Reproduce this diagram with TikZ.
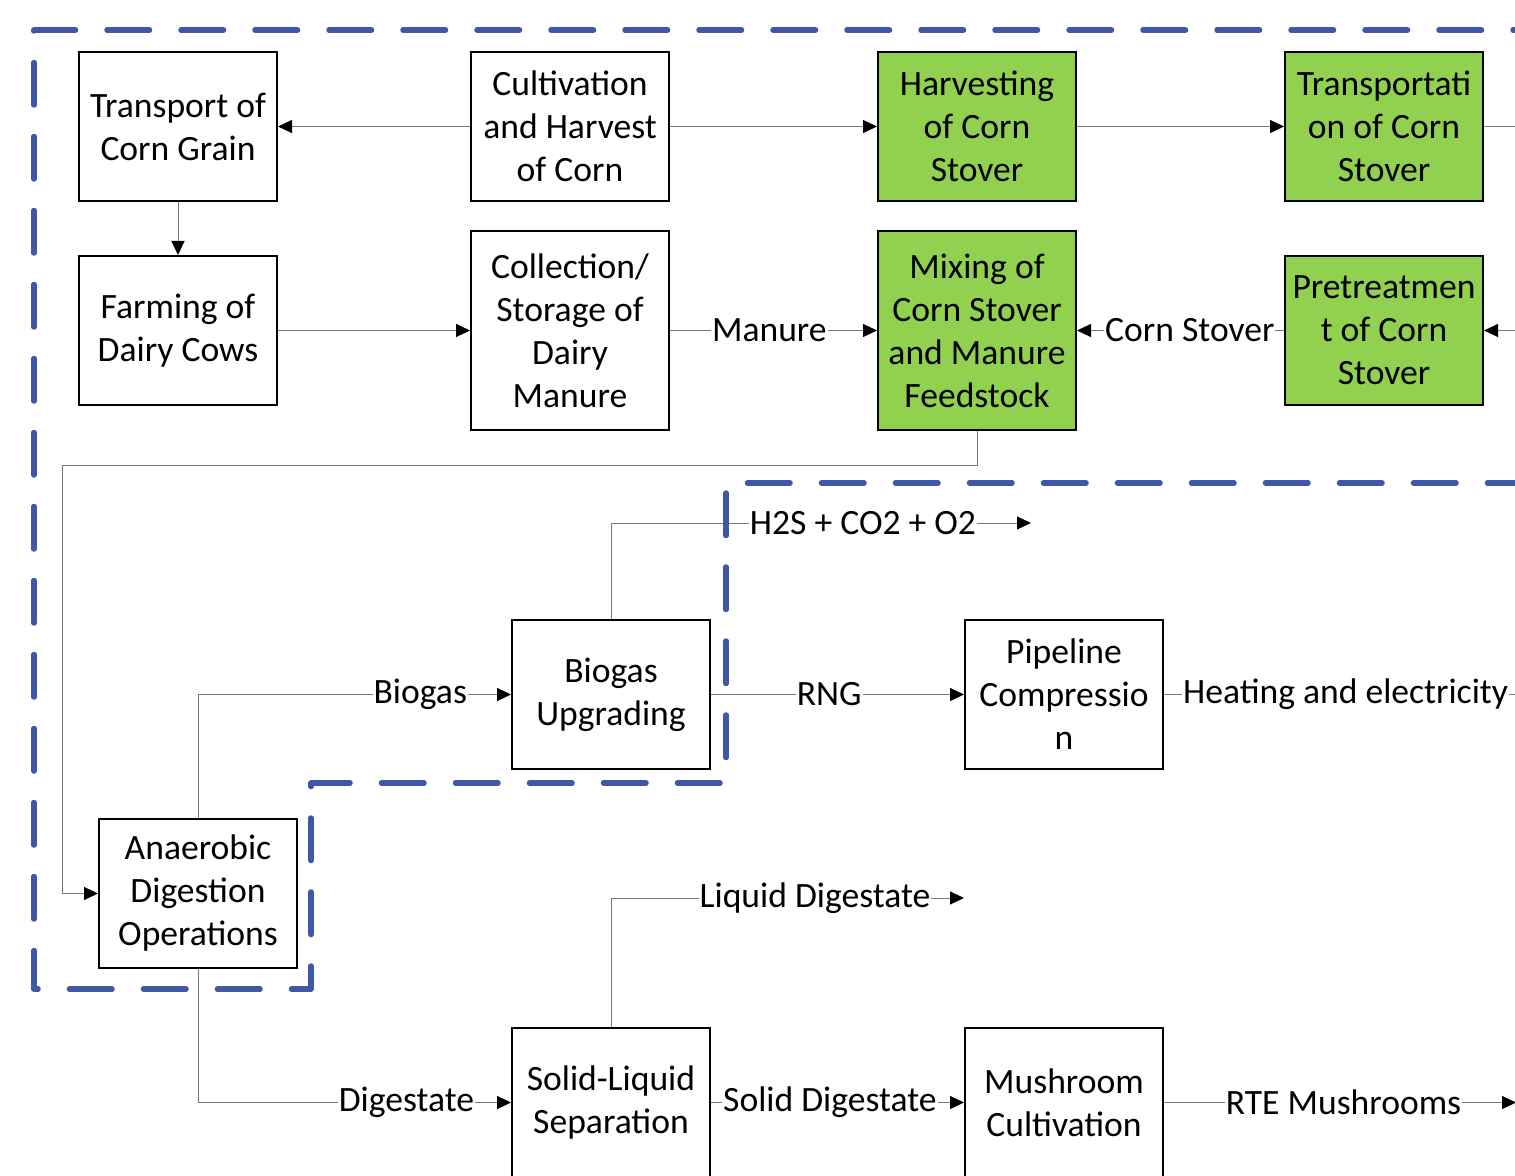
\documentclass[tikz,border=0pt]{standalone}
\usepackage{fontspec}
\setmainfont{Carlito}
\usetikzlibrary{arrows.meta}
\definecolor{dashblue}{RGB}{63,87,167}
\definecolor{boxgreen}{RGB}{146,208,80}
\definecolor{linegray}{RGB}{120,120,120}
\begin{document}
\begin{tikzpicture}[x=0.5pt,y=-0.5pt,
  proc/.style={draw=black, line width=1pt, minimum width=99pt, minimum height=74.5pt, align=center, inner sep=1pt, font=\fontsize{17.8}{21.5}\selectfont, fill=white},
  tall/.style={proc, minimum height=99.5pt},
  gbox/.style={fill=boxgreen},
  conn/.style={draw=linegray, line width=0.5pt},
  arr/.style={conn, -{Triangle[length=7pt,width=6.5pt,color=black,fill=black]}},
  lbl/.style={fill=white, inner sep=0.5pt, font=\fontsize{17.8}{21.5}\selectfont},
  region/.style={draw=dashblue, line width=2.75pt, line cap=round, line join=round, dash pattern=on 21.25pt off 15.75pt}
]
\useasboundingbox (0,0) rectangle (1515,1176);
\clip (0,0) rectangle (1515,1176);
% boxes
\node[proc] (tcg) at (178,126.5) {Transport of\\Corn Grain};
\node[proc] (chc) at (570,126.5) {Cultivation\\and Harvest\\of Corn};
\node[proc,gbox] (hcs) at (977,126.5) {Harvesting\\of Corn\\Stover};
\node[proc,gbox] (tcs) at (1384,126.5) {Transportati\\on of Corn\\Stover};
\node[proc] (fdc) at (178,330.5) {Farming of\\Dairy Cows};
\node[tall] (csm) at (570,330.5) {Collection/\\Storage of\\Dairy\\Manure};
\node[tall,gbox] (mix) at (977,330.5) {Mixing of\\Corn Stover\\and Manure\\Feedstock};
\node[proc,gbox] (pcs) at (1384,330.5) {Pretreatmen\\t of Corn\\Stover};
\node[proc] (bu) at (611,694.5) {Biogas\\Upgrading};
\node[proc] (pc) at (1064,694.5) {Pipeline\\Compressio\\n};
\node[proc] (ad) at (198,893.5) {Anaerobic\\Digestion\\Operations};
\node[proc] (sl) at (611,1102.5) {Solid-Liquid\\Separation};
\node[proc] (mc) at (1064,1102.5) {Mushroom\\Cultivation};
% free ends and waypoints
\coordinate (r1) at (1520,126.5);
\coordinate (r2) at (1520,330.5);
\coordinate (r3) at (1520,694.5);
\coordinate (r4) at (1516,1102.5);
\coordinate (m1) at (977,466);
\coordinate (m2) at (62,893.5);
\coordinate (h2e) at (1031,523);
\coordinate (lde) at (964,898);
% connectors
\draw[arr] (chc) -- (tcg);
\draw[arr] (chc) -- (hcs);
\draw[arr] (hcs) -- (tcs);
\draw[conn] (tcs) -- (r1);
\draw[arr] (tcg) -- (fdc);
\draw[arr] (fdc) -- (csm);
\draw[arr] (csm) -- node[lbl,pos=0.48] (lman) {Manure} (mix);
\draw[arr] (pcs) -- node[lbl,pos=0.455] (lcs) {Corn Stover} (mix);
\draw[arr] (r2) -- (pcs);
\draw[arr] (mix.south) -- (m1) -| (m2) -- (ad.west);
\draw[arr] (ad.north) |- node[lbl,pos=0.855] (lbg) {Biogas} (bu.west);
\draw[arr] (bu.north) |- node[lbl,pos=0.80] (lh2s) {H2S + CO2 + O2} (h2e);
\draw[arr] (bu) -- node[lbl,pos=0.467] (lrng) {RNG} (pc);
\draw[conn] (pc) -- node[lbl,pos=0.51] (lhe) {Heating and electricity} (r3);
\draw[arr] (ad.south) |- node[lbl,pos=0.833] (ldg) {Digestate} (sl.west);
\draw[arr] (sl.north) |- node[lbl,pos=0.789] (lld) {Liquid Digestate} (lde);
\draw[arr] (sl) -- node[lbl,pos=0.47] (lsd) {Solid Digestate} (mc);
\draw[arr] (mc) -- node[lbl,pos=0.51] (lrte) {RTE Mushrooms} (r4);
% dashed boundary
\draw[region] (1530,483) -- (726,483) -- (726,783) -- (311,783) -- (311,989) -- (34,989) -- (34,30) -- (1530,30);
\end{tikzpicture}
\end{document}
